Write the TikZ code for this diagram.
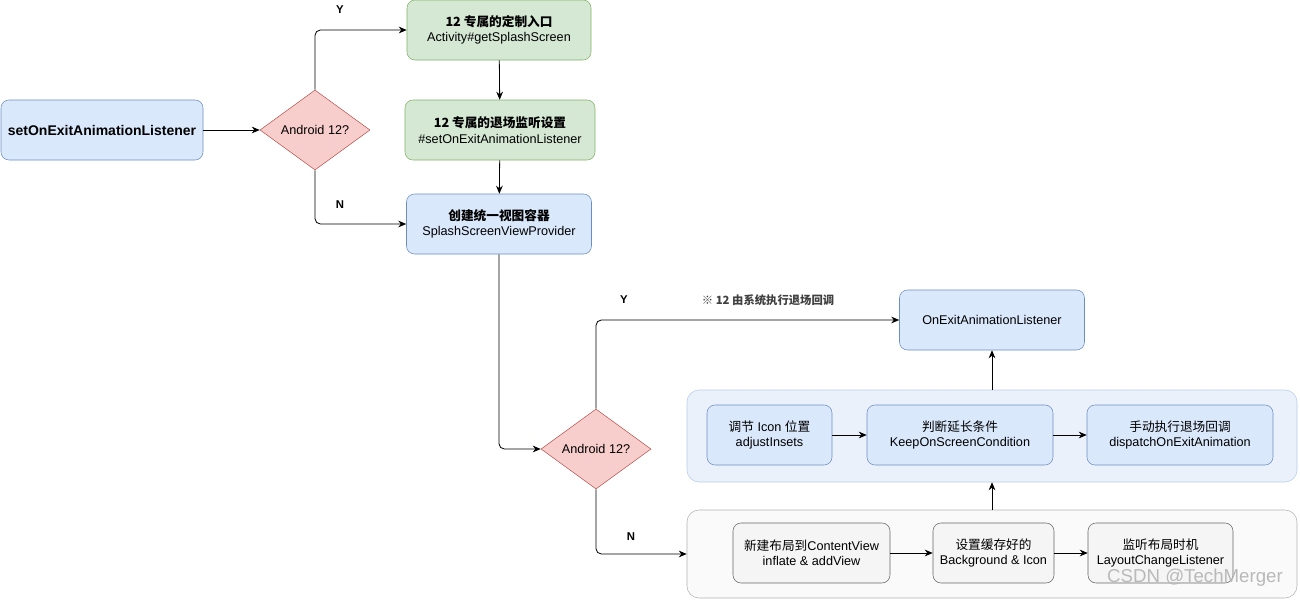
\documentclass[tikz,border=0pt]{standalone}
\usepackage{fontspec}
\setmainfont{Liberation Sans}
\newfontfamily\cjk{Noto Sans CJK SC}
\usepackage{tikz}
\usetikzlibrary{arrows.meta,shapes.geometric}

\definecolor{bluefill}{HTML}{DAE8FC}
\definecolor{blueline}{HTML}{6C8EBF}
\definecolor{greenfill}{HTML}{D5E8D4}
\definecolor{greenline}{HTML}{82B366}
\definecolor{redfill}{HTML}{F8CECC}
\definecolor{redline}{HTML}{B85450}
\definecolor{grayfill}{HTML}{F5F5F5}
\definecolor{grayline}{HTML}{666666}
\definecolor{groupfill}{HTML}{EAF1FB}
\definecolor{groupline}{HTML}{B7CBEA}

\begin{document}
\begin{tikzpicture}[x=0.75pt, y=-0.75pt,
	font=\fontsize{9.5}{11.5}\selectfont,
	box/.style={rectangle, rounded corners=6pt, draw, align=center, inner sep=0pt, minimum height=45pt},
	bluebox/.style={box, fill=bluefill, draw=blueline},
	greenbox/.style={box, fill=greenfill, draw=greenline},
	graybox/.style={box, fill=grayfill, draw=grayline},
	decision/.style={diamond, draw=redline, fill=redfill, inner sep=0pt, minimum width=82.5pt, minimum height=60pt},
	group/.style={rectangle, rounded corners=9pt, inner sep=0pt},
	arr/.style={-{Stealth[length=6pt, width=5pt]}, line width=0.6pt, rounded corners=4pt},
	tag/.style={font=\fontsize{8.5}{10}\selectfont\bfseries}
	]
	
	\useasboundingbox (0,0) rectangle (1300,600);
	
	% --- 1. 入口与判断 ---
	\node[bluebox, minimum width=151.5pt, font=\fontsize{10.5}{13}\selectfont\bfseries] (entry) at (102,130) {setOnExitAnimationListener};
	\node[decision] (check) at (315,130) {Android 12?};
	
	% --- 2. 右侧三个盒子 ---
	\node[greenbox, minimum width=138pt] (custom) at (499,30) {{\cjk\bfseries 12 专属的定制入口}\\Activity\#getSplashScreen};
	\node[greenbox, minimum width=142.5pt] (exitset) at (500,130) {{\cjk\bfseries 12 专属的退场监听设置}\\\#setOnExitAnimationListener};
	\node[bluebox, minimum width=138.75pt] (provider) at (499,224) {{\cjk\bfseries 创建统一视图容器}\\SplashScreenViewProvider};
	
	% --- 3. 第二次判断与回调 ---
	\node[decision] (recheck) at (596,449) {Android 12?};
	\node[bluebox, minimum width=138.75pt] (listener) at (992,320) {OnExitAnimationListener};
	
	% 两个分组背景
	\node[group, fill=groupfill, draw=groupline, minimum width=457.5pt, minimum height=69pt] (grpblue) at (992,436) {};
	\node[group, fill=grayfill!50, draw=gray!60, minimum width=457.5pt, minimum height=66pt] (grpgray) at (992,554) {};
	
	% 分组内的盒子
	\node[bluebox, minimum width=93.75pt] (adjust) at (769.5,435) {{\cjk 调节} Icon {\cjk 位置}\\adjustInsets};
	\node[bluebox, minimum width=139.5pt] (keepon) at (960,435) {{\cjk 判断延长条件}\\KeepOnScreenCondition};
	\node[bluebox, minimum width=139.5pt] (dispatch) at (1180,435) {{\cjk 手动执行退场回调}\\dispatchOnExitAnimation};
	
	\node[graybox, minimum width=117.75pt] (inflate) at (811.5,553) {{\cjk 新建布局到}ContentView\\inflate \& addView};
	\node[graybox, minimum width=90.75pt] (cached) at (993.5,553) {{\cjk 设置缓存好的}\\Background \& Icon};
	\node[graybox, minimum width=108.75pt] (layout) at (1160.5,553) {{\cjk 监听布局时机}\\LayoutChangeListener};
	
	% --- 4. 连线 ---
	\draw[arr] (entry) -- (check);
	\draw[arr] (check.north) |- (custom.west);
	\draw[arr] (check.south) |- (provider.west);
	\draw[arr] (custom) -- (exitset);
	\draw[arr] (exitset) -- (provider);
	\draw[arr] (provider.south) |- (recheck.west);
	\draw[arr] (recheck.north) |- (listener.west);
	\draw[arr] (recheck.south) |- (grpgray.west);
	
	\draw[arr] (adjust) -- (keepon);
	\draw[arr] (keepon) -- (dispatch);
	\draw[arr] (inflate) -- (cached);
	\draw[arr] (cached) -- (layout);
	\draw[arr] (grpgray.north) -- (grpblue.south);
	\draw[arr] (grpblue.north) -- (listener.south);
	
	% --- 5. 标注 ---
	\node[tag] (yes1) at (340,10) {Y};
	\node[tag] (no1) at (340,205) {N};
	\node[tag] (yes2) at (624,300) {Y};
	\node[tag] (no2) at (631,537) {N};
	\node[text=black!75, font=\fontsize{8.5}{10}\selectfont\cjk\bfseries] (note) at (768,300) {※ 12 由系统执行退场回调};
	
	% 水印
	\node[text=gray!55, font=\fontsize{14}{16}\selectfont] (mark) at (1195,578) {CSDN @TechMerger};
	
\end{tikzpicture}
\end{document}
